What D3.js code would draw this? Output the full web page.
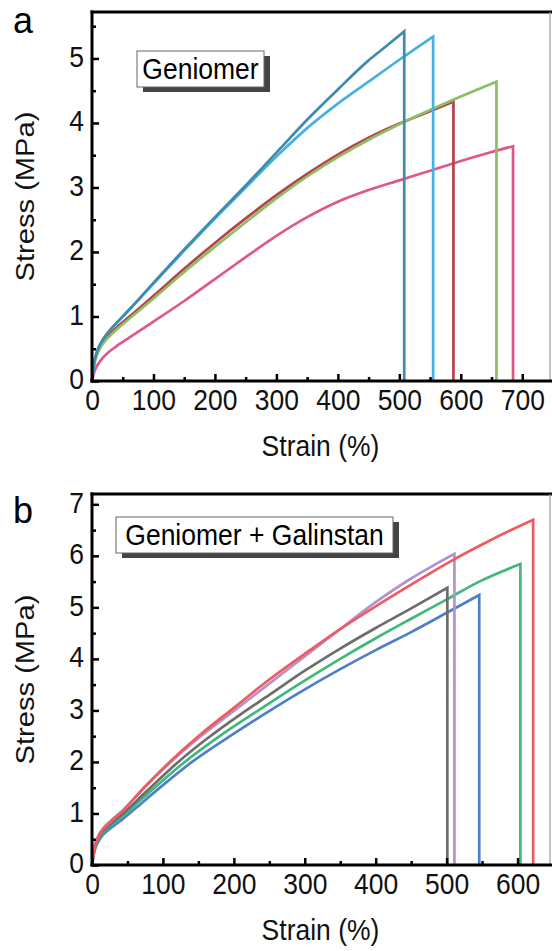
<!DOCTYPE html>
<html>
<head>
<meta charset="utf-8">
<script src="https://cdn.jsdelivr.net/npm/d3@7"></script>
<style>
  html, body { margin: 0; padding: 0; background: #fff; }
  svg { display: block; font-family: "Liberation Sans", Arial, sans-serif; }
</style>
</head>
<body>
<svg id="chart" width="552" height="951"></svg>
<script>
// panel a: Geniomer, [strain %, stress MPa]
const aTeal = [[0,0],[3,0.25],[8,0.45],[15,0.6],[25,0.74],[40,0.9],[60,1.1],[100,1.52],[150,2.04],[200,2.54],[250,3.03],[300,3.54],[350,4.05],[400,4.52],[450,4.97],[480,5.2],[508,5.42]];
const aBlue = [[0,0],[3,0.25],[8,0.45],[15,0.6],[25,0.74],[40,0.9],[60,1.1],[100,1.51],[150,2.02],[200,2.52],[250,3.0],[300,3.48],[350,3.92],[400,4.3],[450,4.64],[500,4.98],[555,5.34]];
const aRed = [[0,0],[3,0.24],[8,0.42],[15,0.56],[25,0.69],[40,0.83],[60,0.99],[100,1.32],[150,1.74],[200,2.14],[250,2.52],[300,2.88],[350,3.21],[400,3.51],[450,3.77],[500,3.99],[550,4.18],[588,4.33]];
const aGreen = [[0,0],[3,0.22],[8,0.4],[15,0.54],[25,0.66],[40,0.8],[60,0.96],[100,1.28],[150,1.69],[200,2.08],[250,2.46],[300,2.83],[350,3.17],[400,3.47],[450,3.74],[500,3.98],[550,4.2],[600,4.41],[658,4.64]];
const aPink = [[0,0],[3,0.12],[8,0.23],[15,0.33],[25,0.43],[40,0.54],[60,0.67],[100,0.92],[150,1.24],[200,1.58],[250,1.92],[300,2.25],[350,2.54],[400,2.78],[450,2.96],[500,3.11],[550,3.26],[600,3.41],[650,3.55],[685,3.64]];

// panel b: Geniomer + Galinstan
const bGray = [[0,0],[3,0.28],[8,0.5],[15,0.65],[25,0.78],[44,1.0],[80,1.47],[120,1.98],[160,2.43],[210,2.93],[250,3.3],[300,3.77],[350,4.2],[400,4.6],[450,4.98],[501,5.38]];
const bBlue = [[0,0],[3,0.24],[8,0.43],[15,0.58],[25,0.7],[44,0.9],[70,1.2],[100,1.55],[141,2.0],[200,2.55],[256,3.04],[293,3.35],[350,3.8],[400,4.17],[450,4.52],[501,4.9],[546,5.24]];
const bGreen = [[0,0],[3,0.26],[8,0.47],[15,0.62],[25,0.75],[44,0.96],[80,1.4],[129,1.98],[180,2.5],[239,3.04],[293,3.52],[350,4.0],[400,4.4],[450,4.78],[501,5.16],[546,5.5],[604,5.84]];
const bPurple = [[0,0],[3,0.31],[8,0.54],[15,0.7],[25,0.84],[44,1.07],[70,1.45],[108,1.96],[150,2.46],[200,2.99],[250,3.52],[300,4.05],[350,4.58],[400,5.1],[450,5.56],[490,5.88],[511,6.04]];
const bRed = [[0,0],[3,0.3],[8,0.52],[15,0.68],[25,0.82],[44,1.06],[70,1.45],[108,1.98],[150,2.5],[200,3.05],[250,3.6],[300,4.1],[350,4.58],[400,5.02],[450,5.44],[500,5.85],[550,6.22],[600,6.56],[622,6.7]];

const aXTicks = [0, 100, 200, 300, 400, 500, 600, 700];
const aYTicks = [0, 1, 2, 3, 4, 5];
const bXTicks = [0, 100, 200, 300, 400, 500, 600];
const bYTicks = [0, 1, 2, 3, 4, 5, 6, 7];

const svg = d3.select("#chart");
const K = 1.12; // text in the source figure is a bit taller than wide

drawPanel({
  letter: "a", letterY: 33,
  label: "Geniomer",
  box: { x: 137, y: 51, w: 127, h: 36 },
  xDomain: [0, 750], yDomain: [0, 5.72],
  top: 12, bottom: 381,
  xTicks: aXTicks, yTicks: aYTicks,
  series: [
    { data: aPink, color: "#e0568f" },
    { data: aRed, color: "#b6414f" },
    { data: aGreen, color: "#8cbf62" },
    { data: aBlue, color: "#47b1e0" },
    { data: aTeal, color: "#3d8cab" }
  ]
});

drawPanel({
  letter: "b", letterY: 523,
  label: "Geniomer + Galinstan",
  box: { x: 116, y: 517, w: 277, h: 36 },
  xDomain: [0, 650], yDomain: [0, 7.2],
  top: 494, bottom: 865,
  xTicks: bXTicks, yTicks: bYTicks,
  series: [
    { data: bBlue, color: "#4e7fca" },
    { data: bGreen, color: "#3fb87a" },
    { data: bGray, color: "#6d6d6d" },
    { data: bPurple, color: "#b293cc" },
    { data: bRed, color: "#ee5b60" }
  ]
});

function tallText(g, x, y, str, size, rotate) {
  return g.append("text")
    .attr("transform", `translate(${x},${y}) scale(1,${K})` + (rotate ? " rotate(-90)" : ""))
    .attr("font-size", size).attr("fill", "#111")
    .text(str);
}

function drawPanel(p) {
  const left = 92, right = 553;
  const x = d3.scaleLinear().domain(p.xDomain).range([left, right]);
  const y = d3.scaleLinear().domain(p.yDomain).range([p.bottom, p.top]);
  const g = svg.append("g");

  // curves, each ending with a vertical drop at break
  const line = d3.line().x(d => x(d[0])).y(d => y(d[1])).curve(d3.curveMonotoneX);
  const drop = d3.line().x(d => x(d[0])).y(d => y(d[1]));
  p.series.forEach(s => {
    const last = s.data[s.data.length - 1];
    g.append("path")
      .attr("d", line(s.data) + drop([last, [last[0], 0]]).replace("M", "L"))
      .attr("fill", "none")
      .attr("stroke", s.color)
      .attr("stroke-width", 2.7)
      .attr("stroke-linejoin", "miter");
  });

  // frame: thick top, thin grey right edge
  g.append("line").attr("x1", left - 1.5).attr("x2", 552)
    .attr("y1", p.top).attr("y2", p.top)
    .attr("stroke", "#000").attr("stroke-width", 3);
  g.append("line").attr("x1", 550).attr("x2", 550)
    .attr("y1", p.top).attr("y2", p.bottom)
    .attr("stroke", "#999").attr("stroke-width", 1.2);

  // minor ticks
  const xMinor = p.xTicks.map(v => v + 50).filter(v => v < p.xDomain[1]);
  const yMinor = p.yTicks.map(v => v + 0.5).filter(v => v < p.yDomain[1]);
  const minorX = g.append("g").attr("transform", `translate(0,${p.bottom})`)
    .call(d3.axisBottom(x).tickValues(xMinor).tickSize(-4).tickFormat(""));
  const minorY = g.append("g").attr("transform", `translate(${left},0)`)
    .call(d3.axisLeft(y).tickValues(yMinor).tickSize(-4).tickFormat(""));
  [minorX, minorY].forEach(a => {
    a.select(".domain").remove();
    a.selectAll("line").attr("stroke-width", 2.5);
  });

  // major axes
  const xAxis = g.append("g").attr("transform", `translate(0,${p.bottom})`)
    .call(d3.axisBottom(x).tickValues(p.xTicks).tickSize(-7).tickSizeOuter(0).tickPadding(8).tickFormat(d3.format("d")));
  const yAxis = g.append("g").attr("transform", `translate(${left},0)`)
    .call(d3.axisLeft(y).tickValues(p.yTicks).tickSize(-7).tickSizeOuter(0).tickPadding(8).tickFormat(d3.format("d")));
  [xAxis, yAxis].forEach(a => {
    a.select(".domain").remove();
    a.selectAll("line").attr("stroke-width", 2.5);
    a.selectAll("text")
      .attr("font-size", 26.5)
      .attr("font-family", "Liberation Sans, Arial, sans-serif")
      .attr("fill", "#111")
      .attr("y", function () { return (+d3.select(this).attr("y") || 0) / K; })
      .attr("transform", `scale(1,${K})`);
  });
  // y labels: keep their centre on the tick after stretching
  yAxis.selectAll("text").attr("dy", "0.26em");
  g.append("line").attr("x1", left).attr("x2", left)
    .attr("y1", p.top - 1.5).attr("y2", p.bottom + 1.5)
    .attr("stroke", "#000").attr("stroke-width", 3);
  g.append("line").attr("x1", left - 1.5).attr("x2", 552)
    .attr("y1", p.bottom).attr("y2", p.bottom)
    .attr("stroke", "#000").attr("stroke-width", 3);

  // axis titles
  tallText(g, 34, (p.top + p.bottom) / 2, "Stress (MPa)", 26, true).attr("text-anchor", "middle");
  tallText(g, (left + right) / 2 - 2, p.bottom + 75, "Strain (%)", 26.5).attr("text-anchor", "middle");

  // panel letter
  g.append("text").attr("x", 13).attr("y", p.letterY)
    .attr("font-size", 36).attr("fill", "#000").text(p.letter);

  // label box with drop shadow
  const b = p.box;
  g.append("rect").attr("x", b.x + 6).attr("y", b.y + 5).attr("width", b.w).attr("height", b.h)
    .attr("fill", "#444");
  g.append("rect").attr("x", b.x).attr("y", b.y).attr("width", b.w).attr("height", b.h)
    .attr("fill", "#fff").attr("stroke", "#666").attr("stroke-width", 1);
  tallText(g, b.x + b.w / 2, b.y + b.h / 2 + 10, p.label, 26.5).attr("text-anchor", "middle").attr("fill", "#000");
}
</script>
</body>
</html>
